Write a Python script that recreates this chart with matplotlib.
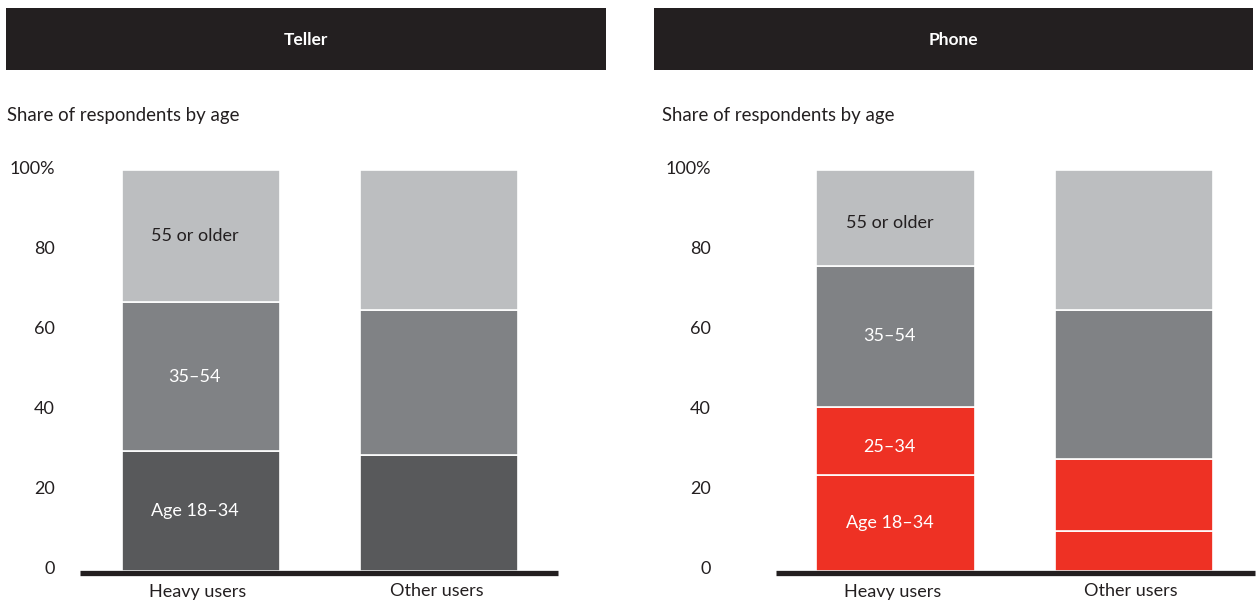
import matplotlib
matplotlib.use("Agg")
import matplotlib.pyplot as plt
from matplotlib.patches import Rectangle
from matplotlib.transforms import ScaledTranslation

plt.rcParams['font.family'] = ['Lato', 'DejaVu Sans']

W, H = 1259, 603
DPI = 100

categories = ["Heavy users", "Other users"]
yticks = [0, 20, 40, 60, 80, 100]
ytick_labels = ["0", "20", "40", "60", "80", "100%"]

# Teller: share of respondents by age band (bottom to top)
teller_segments = ["Age 18–34", "35–54", "55 or older"]
teller_18_34 = [30, 29]
teller_35_54 = [37, 36]
teller_55_plus = [33, 35]

# Phone: share of respondents by age band (bottom to top)
phone_segments = ["18–24", "25–34", "35–54", "55 or older"]
phone_18_24 = [24, 10]
phone_25_34 = [17, 18]
phone_35_54 = [35, 37]
phone_55_plus = [24, 35]

# Text shown inside the heavy-user bar, one per segment
teller_labels = ["Age 18–34", "35–54", "55 or older"]
phone_labels = ["Age 18–34", "25–34", "35–54", "55 or older"]

DARK = "#58595b"
MID = "#808285"
LIGHT = "#bcbec0"
RED = "#ee3124"
HEADER = "#231f20"
TEXT = "#231f20"

fig = plt.figure(figsize=(W / DPI, H / DPI), dpi=DPI)


def px_axes(x0, x1, y_top, y_bot):
    return fig.add_axes([x0 / W, (H - y_bot) / H, (x1 - x0) / W, (y_bot - y_top) / H])


def px_shift(dx, dy):
    return ScaledTranslation(dx / DPI, dy / DPI, fig.dpi_scale_trans)


def header(x0, x1, title):
    fig.patches.append(Rectangle((x0 / W, (H - 70) / H), (x1 - x0) / W, 62 / H,
                                 transform=fig.transFigure, facecolor=HEADER,
                                 edgecolor="none"))
    fig.text((x0 + x1) / 2 / W, (H - 40) / H, title, color="white",
             fontsize=12.5, fontweight="bold", ha="center", va="center")


def panel(ax, series, colors, labels, label_dy, xlim, label_pad):
    bottoms = [0.0] * len(categories)
    x = list(range(len(categories)))
    for vals, col, lab, dy in zip(series, colors, labels, label_dy):
        ax.bar(x, vals, bottom=bottoms, width=0.6625, color=col,
               edgecolor="white", linewidth=1.2)
        if lab:
            ax.text(x[0], bottoms[0] + vals[0] / 2, lab, ha="center", va="center",
                    fontsize=13, color="white" if col != LIGHT else TEXT,
                    transform=ax.transData + px_shift(-6, dy))
        bottoms = [b + v for b, v in zip(bottoms, vals)]
    ax.set_xlim(*xlim)
    ax.set_ylim(0, 100)
    for s in ax.spines.values():
        s.set_visible(False)
    ax.plot([0, 1], [-0.62, -0.62], transform=ax.get_yaxis_transform(),
            color=HEADER, lw=3.8, solid_capstyle="butt", clip_on=False)
    ax.set_yticks(yticks)
    ax.set_yticklabels(ytick_labels)
    ax.set_xticks(x)
    ax.set_xticklabels(categories)
    ax.tick_params(axis="both", length=0, labelsize=13, colors=TEXT)
    ax.tick_params(axis="y", pad=label_pad)
    ax.tick_params(axis="x", pad=9)
    for t in ax.get_yticklabels():
        t.set_transform(t.get_transform() + px_shift(0, 3))
    for t in ax.get_xticklabels():
        t.set_transform(t.get_transform() + px_shift(-3, 0))


header(6, 606, "Teller")
header(654, 1253, "Phone")
fig.text(7 / W, (H - 116) / H, "Share of respondents by age", fontsize=13.4,
         color=TEXT, ha="left", va="center")
fig.text(662 / W, (H - 116) / H, "Share of respondents by age", fontsize=13.4,
         color=TEXT, ha="left", va="center")

ax1 = px_axes(80, 558, 170, 571)
panel(ax1, [teller_18_34, teller_35_54, teller_55_plus], [DARK, MID, LIGHT],
      teller_labels, [0, 0, 0], (-0.507, 1.497), 18)

ax2 = px_axes(776, 1255, 170, 571)
panel(ax2, [phone_18_24, phone_25_34, phone_35_54, phone_55_plus],
      [RED, RED, MID, LIGHT], phone_labels, [0, -6, 0, -5],
      (-0.501, 1.507), 46.8)

fig.savefig("out.png", dpi=DPI)
